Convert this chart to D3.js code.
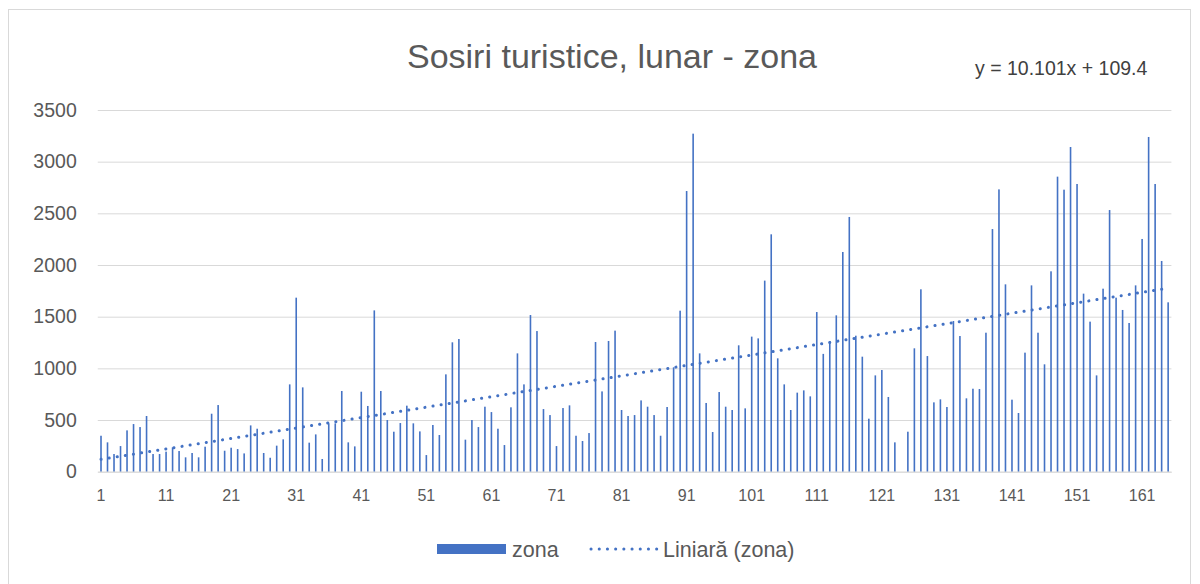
<!DOCTYPE html>
<html>
<head>
<meta charset="utf-8">
<script src="https://cdn.jsdelivr.net/npm/d3@7"></script>
<style>
  body { margin: 0; background: #fff; }
  svg { display: block; font-family: "Liberation Sans", Arial, sans-serif; }
</style>
</head>
<body>
<div id="chart"></div>
<script>
'use strict';

// monthly tourist arrivals (month 124 has no bar)
var zona = [
  348, 284, 171, 248, 400, 461, 432, 539, 171, 171,
  194, 235, 200, 139, 181, 139, 242, 561, 645, 203,
  232, 219, 177, 448, 416, 181, 135, 252, 313, 845,
  1684, 816, 281, 361, 123, 468, 468, 781, 284, 245,
  774, 636, 1561, 781, 500, 387, 471, 639, 468, 390,
  161, 452, 355, 942, 1252, 1284, 310, 500, 432, 629,
  577, 416, 258, 623, 1145, 845, 1516, 1361, 606, 548,
  248, 616, 642, 348, 297, 374, 1255, 777, 1265, 1365,
  597, 539, 548, 690, 629, 548, 348, 626, 1010, 1558,
  2716, 3271, 1145, 665, 384, 771, 629, 597, 1223, 613,
  1307, 1290, 1849, 2297, 1097, 845, 597, 765, 787, 729,
  1545, 1140, 1265, 1513, 2126, 2465, 1316, 1113, 513, 932,
  984, 723, 284, 0, 387, 1194, 1765, 1119, 671, 700,
  626, 1458, 1313, 710, 803, 800, 1345, 2348, 2732, 1813,
  697, 568, 1152, 1803, 1345, 1039, 1939, 2855, 2729, 3142,
  2784, 1723, 1452, 932, 1771, 2532, 1684, 1565, 1439, 1803,
  2252, 3239, 2784, 2039, 1639
];
var months = zona.map(function (d, i) { return i + 1; });
var xTickLabels = months.filter(function (m) { return (m - 1) % 10 === 0; });
var yTicks = [0, 500, 1000, 1500, 2000, 2500, 3000, 3500];

// linear trendline as printed on the chart
var trendSlope = 10.101,
    trendIntercept = 109.4;

var width = 1200,
    height = 584;

var margin = {top: 110, right: 28.6, bottom: 112.3, left: 97.75},
    chartWidth = width - margin.left - margin.right,
    chartHeight = height - margin.top - margin.bottom;

var blue = '#4472C4',
    grid = '#d9d9d9',
    textGray = '#595959';

var svg = d3.select('#chart').append('svg')
  .attr('width', width)
  .attr('height', height);

// chart frame
svg.append('rect')
  .attr('x', 8.5).attr('y', 9.5)
  .attr('width', 1182).attr('height', 640)
  .attr('fill', 'none')
  .attr('stroke', grid);

var chart = svg.append('g')
  .attr('transform', 'translate(' + margin.left + ',' + margin.top + ')');

var x = d3.scaleBand()
  .domain(months)
  .range([0, chartWidth])
  .padding(0);

var y = d3.scaleLinear()
  .domain([0, 3500])
  .range([chartHeight, 0]);

// gridlines
var yGrid = d3.axisLeft(y)
  .tickValues(yTicks)
  .tickSize(-chartWidth)
  .tickFormat('');

chart.append('g')
  .attr('class', 'grid')
  .call(yGrid)
  .call(function (g) { g.select('.domain').remove(); })
  .selectAll('line')
  .attr('stroke', grid);

// y labels
var yAxis = d3.axisLeft(y)
  .tickValues(yTicks)
  .tickSize(0)
  .tickPadding(21)
  .tickFormat(d3.format('d'));

chart.append('g')
  .call(yAxis)
  .call(function (g) { g.select('.domain').remove(); })
  .selectAll('text')
  .attr('fill', textGray)
  .style('font-size', '19.5px')
  .style('font-family', '"Liberation Sans", Arial, sans-serif');

// bars
var barWidth = 1.6;
chart.append('g')
  .selectAll('rect')
  .data(zona)
  .enter().append('rect')
  .attr('x', function (d, i) { return x(months[i]) + x.bandwidth() / 2 - barWidth / 2; })
  .attr('y', function (d) { return y(d); })
  .attr('width', barWidth)
  .attr('height', function (d) { return chartHeight - y(d); })
  .attr('fill', blue);

// x axis
var xAxis = d3.axisBottom(x)
  .tickValues(xTickLabels)
  .tickSize(0)
  .tickPadding(18);

chart.append('g')
  .attr('transform', 'translate(0,' + chartHeight + ')')
  .call(xAxis)
  .call(function (g) {
    g.select('.domain').attr('stroke', grid);
  })
  .selectAll('text')
  .attr('fill', textGray)
  .style('font-size', '16px')
  .style('font-family', '"Liberation Sans", Arial, sans-serif');

// trendline
var trend = d3.line()
  .x(function (m) { return x(m) + x.bandwidth() / 2; })
  .y(function (m) { return y(trendSlope * m + trendIntercept); });

chart.append('path')
  .datum(months)
  .attr('d', trend)
  .attr('fill', 'none')
  .attr('stroke', blue)
  .attr('stroke-width', 3)
  .attr('stroke-linecap', 'round')
  .attr('stroke-dasharray', '0.1 8.1');

// title and equation
svg.append('text')
  .attr('x', 612).attr('y', 68)
  .attr('text-anchor', 'middle')
  .attr('fill', textGray)
  .style('font-size', '34px')
  .text('Sosiri turistice, lunar - zona');

svg.append('text')
  .attr('x', 975).attr('y', 75)
  .attr('fill', '#404040')
  .style('font-size', '19.5px')
  .text('y = ' + trendSlope + 'x + ' + trendIntercept);

// legend
var legend = svg.append('g').attr('transform', 'translate(0,549)');

legend.append('rect')
  .attr('x', 437).attr('y', -5)
  .attr('width', 69).attr('height', 10)
  .attr('fill', blue);

legend.append('text')
  .attr('x', 512).attr('y', 7.5)
  .attr('fill', textGray)
  .style('font-size', '21.5px')
  .text('zona');

legend.append('line')
  .attr('x1', 591).attr('x2', 658)
  .attr('y1', 0).attr('y2', 0)
  .attr('stroke', blue)
  .attr('stroke-width', 3)
  .attr('stroke-linecap', 'round')
  .attr('stroke-dasharray', '0.1 8.1');

legend.append('text')
  .attr('x', 663).attr('y', 7.5)
  .attr('fill', textGray)
  .style('font-size', '21.5px')
  .text('Liniară (zona)');
</script>
</body>
</html>
